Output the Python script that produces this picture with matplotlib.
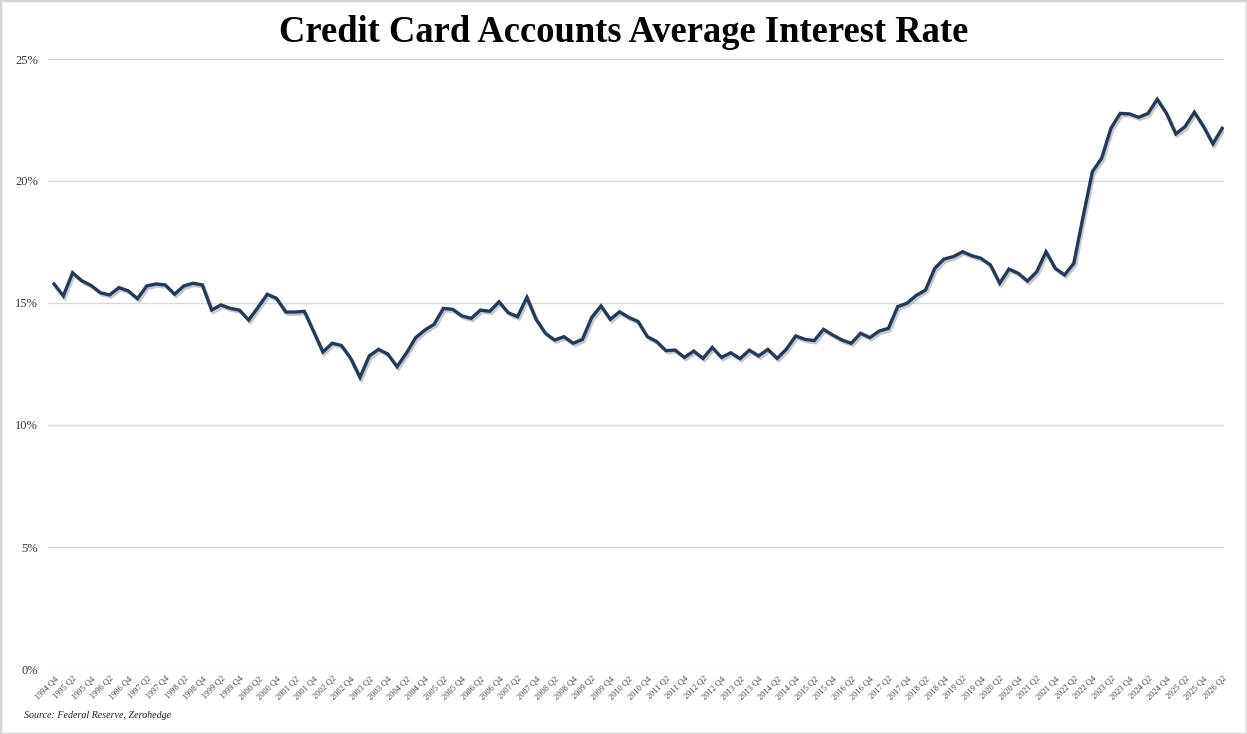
import matplotlib
matplotlib.use("Agg")
import matplotlib.pyplot as plt
import matplotlib.patheffects as pe
from matplotlib.patches import Rectangle
from matplotlib.ticker import FuncFormatter

# ---- data ----
title = "Credit Card Accounts Average Interest Rate"
source = "Source: Federal Reserve, Zerohedge"
start_year, start_q = 1994, 4
rates = [
    15.78, 15.29, 16.24, 15.91, 15.72, 15.42, 15.33, 15.63, 15.50, 15.18,
    15.70, 15.78, 15.74, 15.36, 15.70, 15.81, 15.74, 14.71, 14.92, 14.78,
    14.71, 14.30, 14.82, 15.36, 15.19, 14.63, 14.63, 14.66, 13.83, 12.99,
    13.35, 13.26, 12.73, 11.95, 12.83, 13.10, 12.91, 12.39, 12.94, 13.58,
    13.89, 14.13, 14.78, 14.74, 14.47, 14.37, 14.71, 14.66, 15.05, 14.60,
    14.44, 15.23, 14.33, 13.76, 13.48, 13.62, 13.35, 13.51, 14.41, 14.88,
    14.33, 14.64, 14.41, 14.24, 13.62, 13.42, 13.05, 13.07, 12.77, 13.03,
    12.73, 13.18, 12.77, 12.96, 12.72, 13.07, 12.83, 13.10, 12.73, 13.11,
    13.65, 13.51, 13.46, 13.92, 13.69, 13.48, 13.35, 13.76, 13.58, 13.85,
    13.96, 14.85, 14.99, 15.31, 15.53, 16.42, 16.80, 16.90, 17.10, 16.94,
    16.83, 16.56, 15.81, 16.39, 16.22, 15.90, 16.28, 17.10, 16.42, 16.15,
    16.63, 18.54, 20.38, 20.93, 22.16, 22.77, 22.75, 22.61, 22.77, 23.35,
    22.77, 21.93, 22.23, 22.82, 22.23, 21.52, 22.16,
]
quarters = []
y, q = start_year, start_q
for _ in rates:
    quarters.append(f"{y} Q{q}")
    q += 1
    if q > 4:
        q = 1
        y += 1
y_ticks = [0, 5, 10, 15, 20, 25]

# ---- figure ----
W, H = 1247, 734
fig = plt.figure(figsize=(W / 100, H / 100), dpi=100)
serif = ["Liberation Serif", "DejaVu Serif"]

ax = fig.add_axes([48 / W, 1 - 669 / H, (1224 - 48) / W, (669 - 59) / H])
x = list(range(len(rates)))
ax.plot(x, rates, color="#253a55", lw=2.4, solid_joinstyle="miter", zorder=3,
        path_effects=[pe.SimpleLineShadow(offset=(1.2, -1.6), shadow_color="#7d8796", alpha=0.45),
                      pe.Normal()])

ax.set_xlim(-0.65, len(rates) - 1 + 0.2)
ax.set_ylim(0, 25)
ax.set_yticks(y_ticks)
ax.yaxis.set_major_formatter(FuncFormatter(lambda v, p: f"{v:.0f}%"))
ax.grid(axis="y", color="#d9d9d9", lw=1.0)
ax.set_axisbelow(True)
for s in ax.spines.values():
    s.set_visible(False)
ax.tick_params(axis="both", length=0)
ax.tick_params(axis="y", pad=7, labelsize=9, labelcolor="#3a3a3a")
for lab in ax.get_yticklabels():
    lab.set_fontfamily(serif)

ax.set_xticks(x[::2])
ax.set_xticklabels(quarters[::2], rotation=45, ha="right", va="top",
                   rotation_mode="anchor", fontsize=6, color="#444444",
                   family=serif)
ax.tick_params(axis="x", pad=4)

fig.text(0.5, 1 - 32 / H, title, ha="center", va="center", fontsize=26.3,
         fontweight="bold", family=serif, color="#000000")
fig.text(24 / W, 1 - 716 / H, source, ha="left", va="center", fontsize=7.2,
         style="italic", family=serif, color="#222222")

fig.patches.append(Rectangle((0, 0), 1, 1, transform=fig.transFigure, fill=False,
                             edgecolor="#d3d3d3", lw=2.5))

fig.savefig("out.png", dpi=100)
